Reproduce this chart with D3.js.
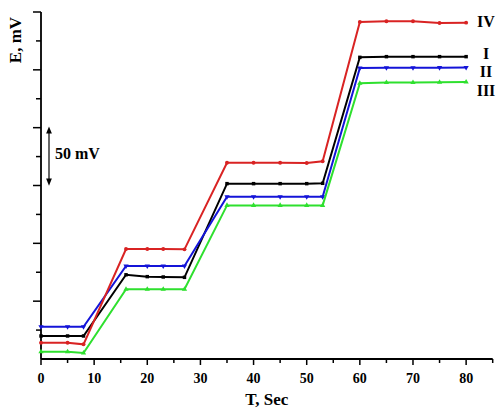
<!DOCTYPE html>
<html>
<head>
<meta charset="utf-8">
<script src="https://cdn.jsdelivr.net/npm/d3@7"></script>
<style>
  body { margin: 0; background: #fff; }
  text { font-family: "Liberation Serif", "Times New Roman", serif; font-weight: bold; }
</style>
</head>
<body>
<div id="wrapper"></div>
<script>
// time points (sec) and potentials (mV)
const times = [0, 5, 8, 16, 20, 23, 27, 35, 40, 45, 50, 53, 60, 65, 70, 75, 80]
const seriesI   = [19.9, 19.9, 19.9, 72.8, 71.2, 70.9, 70.6, 151.6, 151.6, 151.6, 151.6, 151.9, 260.8, 261.4, 261.4, 261.4, 261.4]
const seriesII  = [27.9, 27.9, 27.9, 80.4, 80.4, 80.4, 80.4, 140.3, 140.3, 140.3, 140.3, 140.3, 251.6, 251.8, 251.8, 251.9, 252.0]
const seriesIII = [6.3, 6.3, 5.2, 60.3, 60.3, 60.3, 60.3, 132.8, 132.8, 132.8, 132.8, 132.8, 238.4, 239.0, 239.0, 239.2, 239.5]
const seriesIV  = [14.1, 14.1, 12.7, 95.1, 95.1, 95.1, 94.8, 169.7, 169.7, 169.7, 169.4, 170.9, 291.3, 292.0, 292.0, 290.5, 290.8]
const labels = ["I", "II", "III", "IV"]
const xTickLabels = [0, 10, 20, 30, 40, 50, 60, 70, 80]

const width = 502
const height = 414

const svg = d3.select("#wrapper").append("svg")
  .attr("width", width)
  .attr("height", height)

const x = d3.scaleLinear().domain([0, 85]).range([41, 492.7])
const y = d3.scaleLinear().domain([0, 300]).range([359, 12])

// x axis: minor ticks every 5, labelled ticks every 10
const xAxis = svg.append("g").attr("transform", `translate(0,${y(0)})`)
xAxis.append("line").attr("x1", x(0)).attr("x2", x(85)).attr("stroke", "#000").attr("stroke-width", 1.8)
xAxis.selectAll(".xt").data(d3.range(0, 86, 5)).enter().append("line")
  .attr("x1", d => x(d)).attr("x2", d => x(d))
  .attr("y1", 0).attr("y2", d => d % 10 == 0 ? 6 : 4)
  .attr("stroke", "#000").attr("stroke-width", 1.5)
xAxis.selectAll(".xl").data(xTickLabels).enter().append("text")
  .attr("x", d => x(d)).attr("y", 24)
  .attr("text-anchor", "middle").attr("font-size", 14)
  .text(d => d)

// y axis: no labels, minor every 25, major every 50
const yAxis = svg.append("g").attr("transform", `translate(${x(0)},0)`)
yAxis.append("line").attr("y1", y(0)).attr("y2", y(300)).attr("stroke", "#000").attr("stroke-width", 1.8)
yAxis.selectAll(".yt").data(d3.range(25, 301, 25)).enter().append("line")
  .attr("y1", d => y(d)).attr("y2", d => y(d))
  .attr("x1", d => d % 50 == 0 ? -8 : -5).attr("x2", 0)
  .attr("stroke", "#000").attr("stroke-width", 1.5)

svg.append("text")
  .attr("transform", `translate(21,40) rotate(-90)`)
  .attr("text-anchor", "middle").attr("font-size", 17)
  .text("E, mV")

svg.append("text")
  .attr("x", x(42.5)).attr("y", 405)
  .attr("text-anchor", "middle").attr("font-size", 17)
  .text("T, Sec")

// 50 mV scale arrow
svg.append("defs").selectAll("marker").data(["start", "end"]).enter().append("marker")
  .attr("id", d => "arr-" + d)
  .attr("viewBox", "0 0 10 10").attr("refX", 5).attr("refY", 5)
  .attr("markerWidth", 6).attr("markerHeight", 6)
  .attr("orient", "auto-start-reverse")
  .append("path").attr("d", "M0,1 L10,5 L0,9 Z").attr("fill", "#000")
svg.append("line")
  .attr("x1", 49).attr("x2", 49)
  .attr("y1", y(198)).attr("y2", y(153))
  .attr("stroke", "#000").attr("stroke-width", 1.2)
  .attr("marker-start", "url(#arr-start)")
  .attr("marker-end", "url(#arr-end)")
svg.append("text")
  .attr("x", 55).attr("y", 159)
  .attr("font-size", 16)
  .text("50 mV")

const series = [
  { name: labels[0], values: seriesI, color: "#000000", symbol: d3.symbolSquare, rot: 0, ly: 59 },
  { name: labels[1], values: seriesII, color: "#1414d8", symbol: d3.symbolTriangle, rot: 180, ly: 77 },
  { name: labels[2], values: seriesIII, color: "#2ee02e", symbol: d3.symbolTriangle, rot: 0, ly: 96 },
  { name: labels[3], values: seriesIV, color: "#d92323", symbol: d3.symbolCircle, rot: 0, ly: 27 }
]

const line = d3.line().x(d => x(d[0])).y(d => y(d[1]))

series.forEach(s => {
  const pts = times.map((t, i) => [t, s.values[i]])
  const g = svg.append("g")
  g.append("path")
    .attr("d", line(pts))
    .attr("fill", "none")
    .attr("stroke", s.color)
    .attr("stroke-width", 2)
  g.selectAll("path.m").data(pts).enter().append("path")
    .attr("class", "m")
    .attr("d", d3.symbol().type(s.symbol).size(12))
    .attr("transform", d => `translate(${x(d[0])},${y(d[1])}) rotate(${s.rot})`)
    .attr("fill", s.color)
  svg.append("text")
    .attr("x", 486).attr("y", s.ly)
    .attr("text-anchor", "middle").attr("font-size", 16)
    .text(s.name)
})
</script>
</body>
</html>
